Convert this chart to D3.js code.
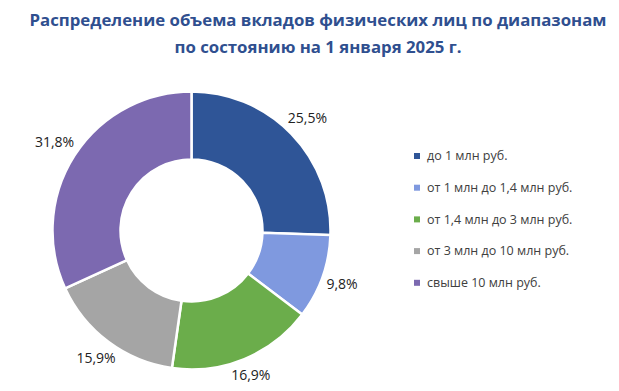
<!DOCTYPE html>
<html>
<head>
<meta charset="utf-8">
<script src="https://cdn.jsdelivr.net/npm/d3@7"></script>
<style>
  body { margin: 0; background: #fff; }
</style>
</head>
<body>
<svg id="chart"></svg>
<script>
// data
const categories = ["до 1 млн руб.", "от 1 млн до 1,4 млн руб.", "от 1,4 млн до 3 млн руб.", "от 3 млн до 10 млн руб.", "свыше 10 млн руб."];
const shares = [25.5, 9.8, 16.9, 15.9, 31.8];
const colors = ["#2F5597", "#7F99DF", "#6BAD4B", "#A5A5A5", "#7C69B0"];
const titleLines = ["Распределение объема вкладов физических лиц по диапазонам", "по состоянию на 1 января 2025 г."];

const width = 619, height = 391;
const cx = 191.5, cy = 230.5;
const outerR = 139, innerR = 71;
const font = "'Open Sans', 'Noto Sans', sans-serif";

const svg = d3.select('#chart')
    .attr('width', width)
    .attr('height', height)
    .style('background', '#FFFFFF');

// title
svg.append('text')
    .attr('x', 318)
    .attr('y', 26)
    .attr('text-anchor', 'middle')
    .style('font-family', font)
    .style('font-size', '16.8px')
    .style('font-weight', 'bold')
    .style('fill', '#2F4F8F')
    .selectAll('tspan')
    .data(titleLines)
    .enter()
    .append('tspan')
    .attr('x', 318)
    .attr('dy', (d, i) => i === 0 ? 0 : 27)
    .text(d => d);

const pie = d3.pie().sort(null).value(d => d)(shares);
const arc = d3.arc().innerRadius(innerR).outerRadius(outerR);

const g = svg.append('g').attr('transform', `translate(${cx},${cy})`);

g.selectAll('path')
    .data(pie)
    .enter()
    .append('path')
    .attr('d', arc)
    .attr('fill', (d, i) => colors[i])
    .attr('stroke', '#FFFFFF')
    .attr('stroke-width', 2.5);

// labels outside the ring
const fmt = v => v.toFixed(1).replace('.', ',') + '%';
const labels = g.selectAll('.lbl')
    .data(pie)
    .enter()
    .append('text')
    .attr('class', 'lbl')
    .attr('text-anchor', 'middle')
    .attr('dy', '0.35em')
    .style('font-family', font)
    .style('font-size', '14px')
    .style('fill', '#222')
    .text(d => fmt(d.data));

labels.each(function (d) {
    const a = (d.startAngle + d.endAngle) / 2;
    const w = this.getComputedTextLength(), h = 12;
    const r = outerR + 4 + (w / 2) * Math.abs(Math.sin(a)) + (h / 2) * Math.abs(Math.cos(a));
    d3.select(this)
        .attr('x', r * Math.sin(a))
        .attr('y', -r * Math.cos(a));
});

// legend
const legend = svg.append('g').attr('transform', 'translate(414,156)');
const rows = legend.selectAll('g')
    .data(categories)
    .enter()
    .append('g')
    .attr('transform', (d, i) => `translate(0,${i * 31.7})`);

rows.append('rect')
    .attr('x', 0)
    .attr('y', -3)
    .attr('width', 6)
    .attr('height', 6)
    .attr('fill', (d, i) => colors[i]);

rows.append('text')
    .attr('x', 13)
    .attr('y', 0)
    .attr('dy', '0.35em')
    .style('font-family', font)
    .style('font-size', '12.5px')
    .style('fill', '#404040')
    .text(d => d);
</script>
</body>
</html>
